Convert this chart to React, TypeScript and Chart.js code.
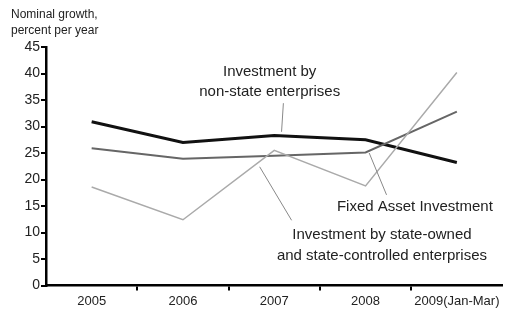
import React, { useEffect, useRef } from "react";
import { Chart, registerables } from "chart.js";

Chart.register(...registerables);

const categories = ["2005", "2006", "2007", "2008", "2009(Jan-Mar)"];
const nonState = [30.9, 27.0, 28.3, 27.5, 23.2];
const fixedAsset = [25.9, 23.9, 24.5, 25.1, 32.8];
const stateOwned = [18.6, 12.4, 25.5, 18.8, 40.2];
const yTicks = [0, 5, 10, 15, 20, 25, 30, 35, 40, 45];
const axisTitle = ["Nominal growth,", "percent per year"];

// annotations in data space: x = category index (fractional), y = value
const notes = [
  { lines: ["Investment by", "non-state enterprises"], x: 1.95, y: [40.3, 36.5], leader: [[2.1, 34.4], [2.08, 29.0]] },
  { lines: ["Fixed Asset Investment"], x: 3.54, y: [14.8], leader: [[3.04, 25.0], [3.23, 17.1]] },
  { lines: ["Investment by state-owned", "and state-controlled enterprises"], x: 3.18, y: [9.6, 5.6], leader: [[1.84, 22.4], [2.19, 12.3]] },
];

const FONT = "'Liberation Sans', Arial, sans-serif";

const annotPlugin = {
  id: "annot",
  afterDatasetsDraw(chart: any) {
    const { ctx, scales } = chart;
    const xs = scales.x, ys = scales.y;
    ctx.save();
    ctx.strokeStyle = "#888";
    ctx.lineWidth = 1;
    notes.forEach((n) => {
      ctx.beginPath();
      ctx.moveTo(xs.getPixelForValue(n.leader[0][0]), ys.getPixelForValue(n.leader[0][1]));
      ctx.lineTo(xs.getPixelForValue(n.leader[1][0]), ys.getPixelForValue(n.leader[1][1]));
      ctx.stroke();
    });
    ctx.fillStyle = "#222";
    ctx.font = `15px ${FONT}`;
    ctx.textAlign = "center";
    ctx.textBaseline = "middle";
    notes.forEach((n) => {
      n.lines.forEach((l, i) => {
        ctx.fillText(l, xs.getPixelForValue(n.x), ys.getPixelForValue(n.y[i]));
      });
    });
    ctx.font = `12px ${FONT}`;
    ctx.textAlign = "left";
    ctx.fillText(axisTitle[0], 11, 15);
    ctx.fillText(axisTitle[1], 11, 31);
    ctx.restore();
  },
};

export default function App() {
  const ref = useRef<HTMLCanvasElement>(null);
  useEffect(() => {
    const chart = new Chart(ref.current!, {
      type: "line",
      data: {
        labels: categories,
        datasets: [
          { label: "Investment by state-owned and state-controlled enterprises", data: stateOwned, borderColor: "#aaaaaa", borderWidth: 1.5, pointRadius: 0, tension: 0 },
          { label: "Fixed Asset Investment", data: fixedAsset, borderColor: "#666666", borderWidth: 2, pointRadius: 0, tension: 0 },
          { label: "Investment by non-state enterprises", data: nonState, borderColor: "#111111", borderWidth: 3, pointRadius: 0, tension: 0 },
        ],
      },
      options: {
        animation: false,
        responsive: false,
        events: [],
        layout: { padding: { top: 47, right: 18.5, left: 0, bottom: 0 } },
        plugins: { legend: { display: false }, tooltip: { enabled: false }, title: { display: false } },
        scales: {
          x: {
            type: "category",
            offset: true,
            border: { display: true, color: "#000", width: 2.5 },
            grid: {
              offset: true,
              drawOnChartArea: false,
              drawTicks: true,
              tickLength: 5,
              color: "#000",
              lineWidth: (c: any) => (c.index === 0 || c.index === undefined ? 0 : 2),
            },
            ticks: { color: "#222", font: { family: FONT, size: 13 }, padding: 3, maxRotation: 0, autoSkip: false },
            afterFit: (s: any) => { s.height = 38.5; },
          },
          y: {
            min: 0,
            max: 45,
            afterBuildTicks: (s: any) => { s.ticks = yTicks.map((v) => ({ value: v })); },
            border: { display: true, color: "#000", width: 2.5 },
            grid: { drawOnChartArea: false, drawTicks: true, tickLength: 5, color: "#000", lineWidth: 2 },
            ticks: { color: "#222", font: { family: FONT, size: 14 }, padding: 1 },
            afterFit: (s: any) => { s.width = 46; },
          },
        },
      },
      plugins: [annotPlugin],
    });
    return () => chart.destroy();
  }, []);
  return (
    <div style={{ position: "absolute", left: 0, top: 0, width: 521, height: 324, background: "#fff" }}>
      <canvas ref={ref} width={521} height={324} style={{ width: 521, height: 324 }} />
    </div>
  );
}
